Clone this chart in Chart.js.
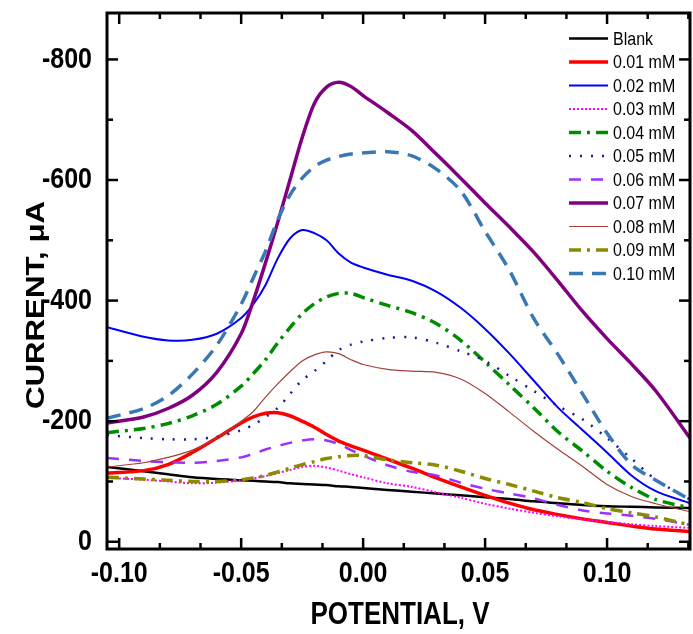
<!DOCTYPE html>
<html>
<head>
<meta charset="utf-8">
<script src="https://cdn.jsdelivr.net/npm/chart.js@4.4.1/dist/chart.umd.min.js"></script>
<style>
  html, body { margin: 0; padding: 0; background: #fff; }
  canvas { display: block; }
</style>
</head>
<body>
<canvas id="c" width="693" height="634"></canvas>
<script>
// ---------------- DATA ----------------
const potentials = [-0.105, -0.09, -0.08, -0.07, -0.06, -0.05, -0.045, -0.04, -0.035, -0.03, -0.025, -0.02, -0.015, -0.01, -0.005, 0, 0.01, 0.02, 0.03, 0.04, 0.05, 0.06, 0.07, 0.08, 0.09, 0.10, 0.11, 0.12, 0.134];

const seriesLabels = ['Blank', '0.01 mM', '0.02 mM', '0.03 mM', '0.04 mM', '0.05 mM', '0.06 mM', '0.07 mM', '0.08 mM', '0.09 mM', '0.10 mM'];

const blank  = [-124, -117, -112, -107, -104, -102, -101, -100, -99, -97, -96, -95, -94, -92, -91, -89, -86, -83, -80, -77, -74, -71, -67, -64, -61, -59, -58, -57, -56];
const mM001  = [-114, -118, -128, -148, -172, -197, -207, -213, -214, -209, -200, -190, -178, -167, -159, -152, -137, -122, -106, -91, -77, -64, -53, -45, -38, -32, -26, -21, -17];
const mM002  = [-356, -340, -334, -335, -345, -371, -394, -426, -470, -503, -517, -512, -500, -478, -463, -455, -443, -433, -415, -388, -353, -312, -267, -222, -185, -148, -110, -84, -64];
const mM003  = [-106, -103, -100, -97, -98, -102, -105, -109, -114, -119, -124, -126, -123, -118, -112, -107, -97, -91, -82, -73, -63, -55, -48, -42, -37, -33, -29, -26, -23];
const mM004  = [-181, -188, -196, -209, -228, -258, -279, -302, -330, -355, -378, -395, -406, -412, -412, -405, -392, -380, -362, -334, -298, -260, -222, -182, -150, -117, -90, -70, -56];
const mM005  = [-177, -172, -170, -170, -174, -185, -194, -207, -222, -245, -268, -283, -300, -318, -327, -332, -338, -339, -330, -316, -300, -275, -250, -225, -203, -172, -138, -103, -70];
const mM006  = [-139, -134, -132, -131, -134, -140, -146, -153, -159, -164, -168, -170, -168, -162, -152, -143, -127, -116, -110, -98, -88, -80, -72, -61, -52, -47, -43, -38, -28];
const mM007  = [-197, -207, -221, -243, -281, -345, -400, -463, -530, -600, -670, -727, -754, -762, -755, -740, -712, -682, -643, -603, -562, -522, -480, -432, -382, -337, -295, -250, -172];
const mM008  = [-124, -131, -140, -152, -172, -200, -216, -240, -262, -282, -300, -310, -315, -312, -302, -294, -286, -283, -281, -270, -246, -215, -183, -153, -125, -95, -75, -63, -50];
const mM009  = [-107, -104, -102, -100, -100, -103, -106, -110, -116, -122, -128, -133, -138, -141, -143, -143, -136, -131, -127, -117, -105, -95, -84, -73, -65, -55, -48, -41, -28];
const mM010  = [-205, -221, -242, -278, -326, -394, -438, -482, -534, -575, -603, -622, -633, -639, -643, -645, -647, -640, -618, -582, -515, -450, -370, -310, -245, -180, -128, -102, -70];

const xTickValues = [-0.10, -0.05, 0.00, 0.05, 0.10];
const yTickValues = [0, -200, -400, -600, -800];

const xTitle = 'POTENTIAL, V';
const yTitle = 'CURRENT, \u03BCA';

// ---------------- STYLES ----------------
const allSeries = [blank, mM001, mM002, mM003, mM004, mM005, mM006, mM007, mM008, mM009, mM010];
const styles = [
  { color: '#000000', width: 2.5, dash: [] },
  { color: '#ff0000', width: 3.5, dash: [] },
  { color: '#0000ff', width: 2,   dash: [] },
  { color: '#ff00ff', width: 2,   dash: [2, 2] },
  { color: '#008c00', width: 3.5, dash: [12, 6, 3, 6] },
  { color: '#1a1a9c', width: 2.5, dash: [2, 9] },
  { color: '#9b30ff', width: 2.5, dash: [12, 10] },
  { color: '#800080', width: 3.5, dash: [] },
  { color: '#a3403a', width: 1.2, dash: [] },
  { color: '#8b8b00', width: 3.5, dash: [12, 6, 3, 6] },
  { color: '#3a78b5', width: 3.5, dash: [14, 9] }
];

// Slight vertical stretch of all text, like the reference typography
const STRETCH = 1.2;
const origFill = CanvasRenderingContext2D.prototype.fillText;
CanvasRenderingContext2D.prototype.fillText = function (text, x, y, maxWidth) {
  const m = this.getTransform();
  const p = m.transformPoint(new DOMPoint(x, y));
  this.save();
  this.setTransform(new DOMMatrix().translate(p.x, p.y).scale(1, STRETCH).translate(-p.x, -p.y).multiply(m));
  if (maxWidth === undefined) origFill.call(this, text, x, y);
  else origFill.call(this, text, x, y, maxWidth);
  this.restore();
};

const FONT = "'Liberation Sans', Arial, sans-serif";

const datasets = allSeries.map((vals, i) => ({
  label: seriesLabels[i],
  data: potentials.map((p, j) => ({ x: p, y: vals[j] })),
  borderColor: styles[i].color,
  backgroundColor: styles[i].color,
  borderWidth: styles[i].width,
  borderDash: styles[i].dash,
  pointRadius: 0,
  fill: false,
  tension: 0.3,
  order: allSeries.length - i
}));

const framePlugin = {
  id: 'frameTicks',
  afterDatasetsDraw(chart) {
    const { ctx, chartArea: a, scales: { x, y } } = chart;
    ctx.save();
    ctx.strokeStyle = '#000';
    ctx.lineWidth = 2.5;
    ctx.setLineDash([]);
    const seg = (x1, y1, x2, y2) => { ctx.beginPath(); ctx.moveTo(x1, y1); ctx.lineTo(x2, y2); ctx.stroke(); };
    const xStep = (xTickValues[1] - xTickValues[0]) / 3;
    for (let k = -6; k <= 20; k++) {
      const v = xTickValues[0] + k * xStep;
      if (v < x.min - 1e-9 || v > x.max + 1e-9) continue;
      const px = x.getPixelForValue(v);
      const len = (k % 3 === 0) ? 11 : 6;
      seg(px, a.bottom, px, a.bottom - len);
      seg(px, a.top, px, a.top + len);
    }
    const yStep = (yTickValues[1] - yTickValues[0]) / 2;
    for (let k = -2; k <= 12; k++) {
      const v = yTickValues[0] + k * yStep;
      if (v < y.min - 1e-9 || v > y.max + 1e-9) continue;
      const py = y.getPixelForValue(v);
      const len = (k % 2 === 0) ? 11 : 6;
      seg(a.left, py, a.left + len, py);
      seg(a.right, py, a.right - len, py);
    }
    ctx.lineWidth = 3;
    ctx.strokeRect(a.left, a.top, a.right - a.left, a.bottom - a.top);
    ctx.restore();
  },
  afterDraw(chart) {
    const { ctx, chartArea: a } = chart;
    ctx.save();
    // axis titles
    ctx.fillStyle = '#000';
    ctx.font = "bold 26px " + FONT;
    ctx.textAlign = 'center';
    ctx.textBaseline = 'middle';
    ctx.fillText(xTitle, 400, 615);
    ctx.save();
    ctx.translate(37, 305);
    ctx.rotate(-Math.PI / 2);
    ctx.fillText(yTitle, 0, 0);
    ctx.restore();
    // legend
    const x0 = a.right - 121, x1 = a.right - 82, tx = a.right - 77;
    ctx.font = "16px " + FONT;
    ctx.textAlign = 'left';
    chart.data.datasets.forEach((ds, i) => {
      const yy = a.top + 25.5 + i * 23.5;
      ctx.strokeStyle = ds.borderColor;
      ctx.lineWidth = ds.borderWidth;
      ctx.setLineDash(ds.borderDash || []);
      ctx.beginPath(); ctx.moveTo(x0, yy); ctx.lineTo(x1, yy); ctx.stroke();
      ctx.fillStyle = '#000';
      ctx.fillText(ds.label, tx, yy + 1);
    });
    ctx.restore();
  }
};

new Chart(document.getElementById('c'), {
  type: 'line',
  data: { datasets },
  plugins: [framePlugin],
  options: {
    responsive: false,
    animation: false,
    devicePixelRatio: 1,
    layout: { padding: { top: 13, right: 3, left: 0, bottom: 0 } },
    plugins: { legend: { display: false }, tooltip: { enabled: false } },
    scales: {
      x: {
        type: 'linear',
        min: -0.105,
        max: 0.134,
        grid: { display: false, drawTicks: false },
        border: { display: false },
        afterBuildTicks: (s) => { s.ticks = xTickValues.map(v => ({ value: v })); },
        afterFit: (s) => { s.height = 85; s.paddingLeft = 0; s.paddingRight = 0; },
        ticks: {
          padding: 10,
          color: '#000',
          font: { family: FONT, size: 25, weight: 'bold' },
          maxRotation: 0,
          autoSkip: false,
          callback: (v) => (Math.abs(v) < 1e-9 ? 0 : v).toFixed(2)
        }
      },
      y: {
        type: 'linear',
        reverse: true,
        min: -877,
        max: 12,
        grid: { display: false, drawTicks: false },
        border: { display: false },
        afterBuildTicks: (s) => { s.ticks = yTickValues.map(v => ({ value: v })); },
        afterFit: (s) => { s.width = 107; s.paddingTop = 0; s.paddingBottom = 0; },
        ticks: {
          padding: 15,
          color: '#000',
          font: { family: FONT, size: 25, weight: 'bold' },
          autoSkip: false,
          callback: (v) => String(Math.round(v))
        }
      }
    }
  }
});
</script>
</body>
</html>
